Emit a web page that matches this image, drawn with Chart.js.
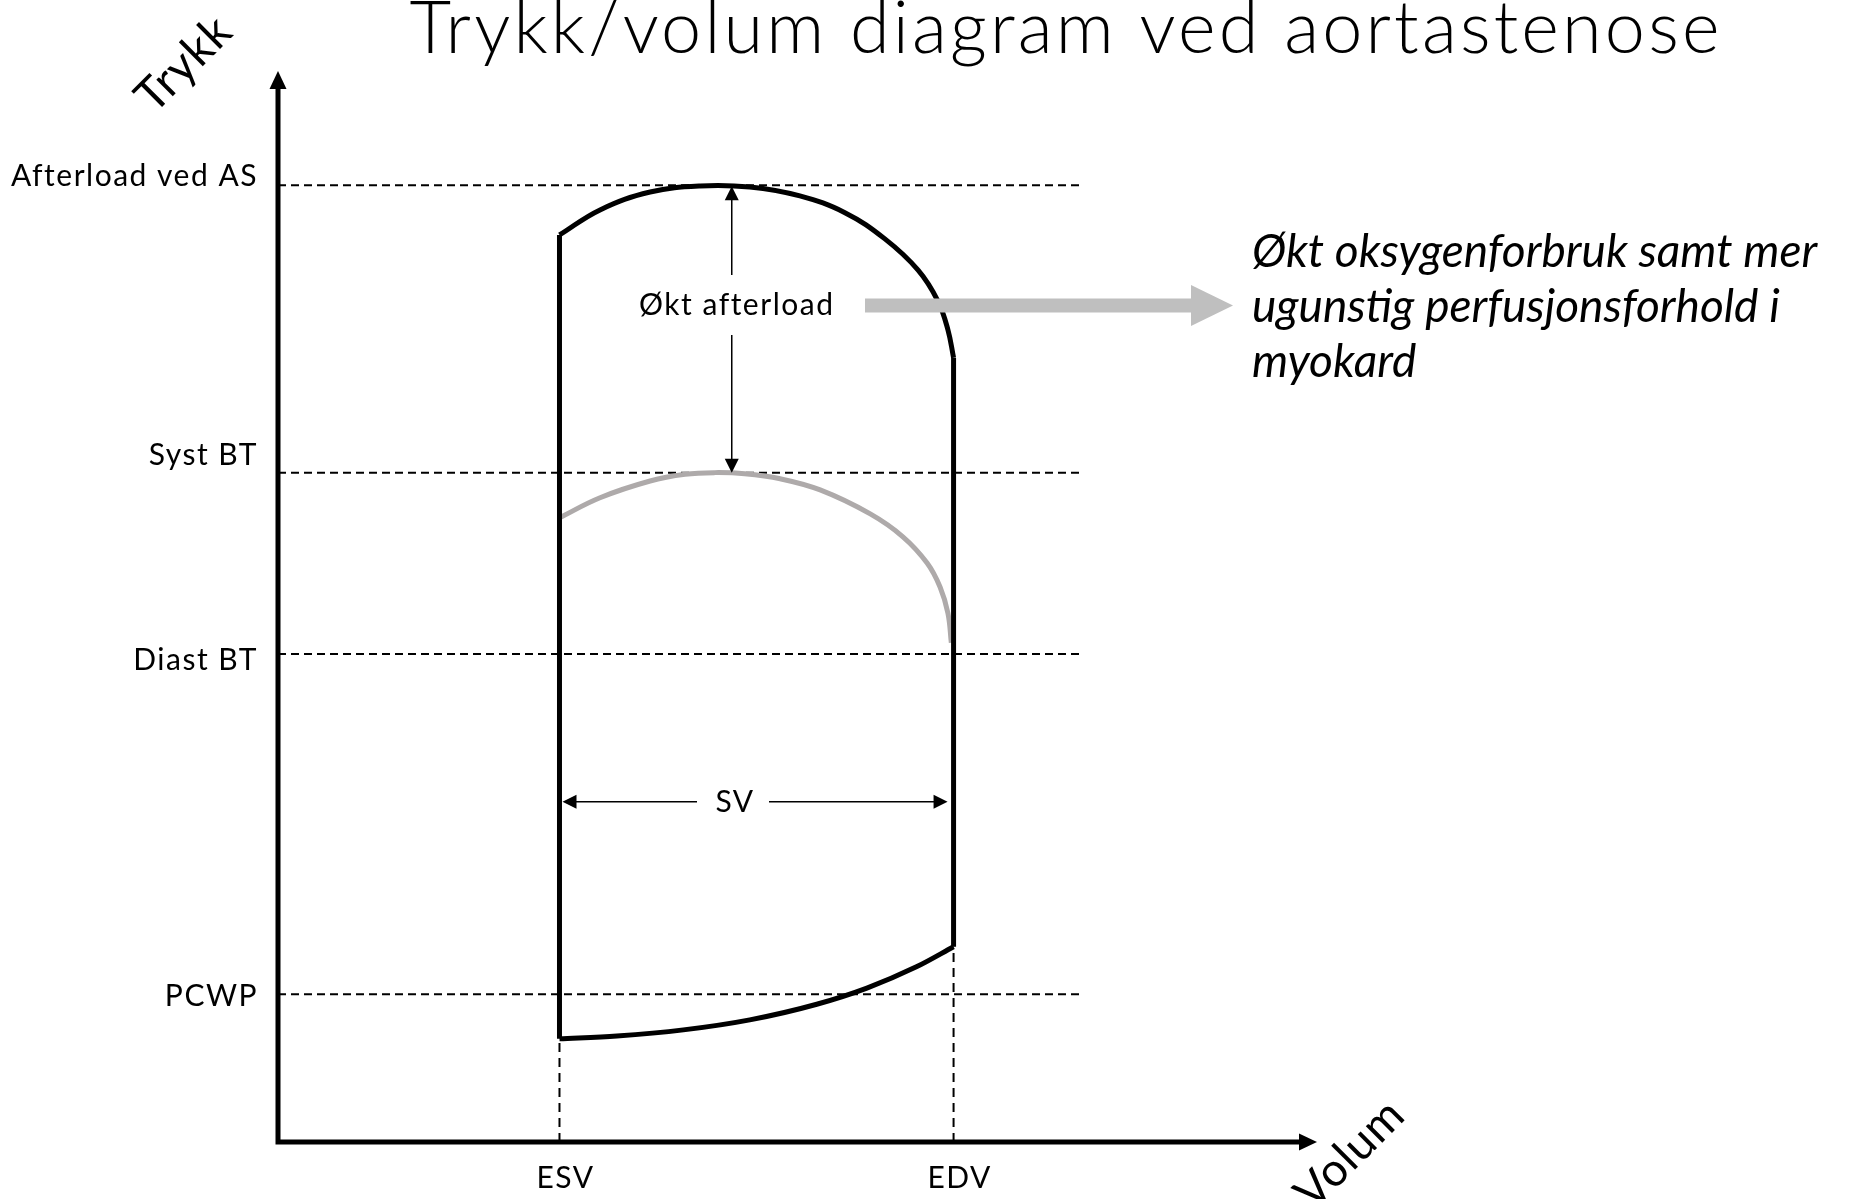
<!DOCTYPE html>
<html>
<head>
<meta charset="utf-8">
<title>Trykk/volum diagram ved aortastenose</title>
<script src="https://cdn.jsdelivr.net/npm/chart.js@4.4.1/dist/chart.umd.min.js"></script>
<style>
  html, body { margin: 0; padding: 0; background: #fff; }
  #wrap { position: relative; width: 1855px; height: 1199px; }
</style>
</head>
<body>
<div id="wrap"><canvas id="pv"></canvas></div>
<script>
// volum (ml) og trykk (mmHg), lest av figuren
const levelNames = ['PCWP', 'Diast BT', 'Syst BT', 'Afterload ved AS'];
const levelValues = [26.5, 87.5, 120, 171.5];
const volumeNames = ['ESV', 'EDV'];
const volumeValues = [50, 120];

// sløyfa ved aortastenose
const topVol = [50, 57.2, 66.1, 75, 83.8, 92.7, 100.7, 107.8, 113.7, 117.2, 119, 120];
const topPres = [162.6, 167.1, 170.3, 171.4, 171.2, 169.6, 166.6, 161.9, 156.3, 150.8, 145.6, 140.6];
const bottomVol = [50, 60.2, 72, 83.8, 95.7, 104.6, 113.4, 120];
const bottomPres = [18.5, 19, 20.1, 21.9, 24.7, 27.6, 31.4, 35];

// normal ejeksjonskurve (grå)
const greyVol = [50, 57.2, 66.1, 72.3, 77.6, 82.9, 89.2, 96.3, 105.2, 111, 115.3, 117.6, 119, 119.6];
const greyPres = [111.9, 115.5, 118.5, 119.7, 120, 119.8, 118.9, 116.9, 112.6, 108.5, 103.8, 99.5, 94.8, 89.5];

const volMax = 184.2;
const presMax = 192;
const guideEnd = 142.3;

const FONT = 'Lato, "Noto Sans", sans-serif';

function pts(xs, ys) {
    return xs.map((x, i) => ({ x: x, y: ys[i] }));
}

const loopStyle = {
    borderColor: '#000',
    borderWidth: 5,
    pointRadius: 0,
    showLine: true,
    fill: false,
    borderJoinStyle: 'round',
    tension: 0.4
};

const datasets = [
    { label: 'Ejeksjon', data: pts(topVol, topPres), ...loopStyle },
    { label: 'Fylling', data: pts(bottomVol, bottomPres), ...loopStyle, cubicInterpolationMode: 'monotone' },
    { label: 'Isovolumetrisk relaksasjon', ...loopStyle, tension: 0,
      data: [{ x: volumeValues[0], y: bottomPres[0] }, { x: volumeValues[0], y: topPres[0] }] },
    { label: 'Isovolumetrisk kontraksjon', ...loopStyle, tension: 0,
      data: [{ x: volumeValues[1], y: bottomPres[bottomPres.length - 1] }, { x: volumeValues[1], y: topPres[topPres.length - 1] }] },
    { label: 'Normal', data: pts(greyVol, greyPres), ...loopStyle, borderColor: '#aeaaaa' }
];

levelValues.forEach((v, i) => {
    datasets.push({
        label: levelNames[i],
        data: [{ x: 0, y: v }, { x: guideEnd, y: v }],
        showLine: true, pointRadius: 0, borderColor: '#000', borderWidth: 2, borderDash: [8, 5], tension: 0
    });
});
volumeValues.forEach((v, i) => {
    const top = i === 0 ? bottomPres[0] : bottomPres[bottomPres.length - 1];
    datasets.push({
        label: volumeNames[i],
        data: [{ x: v, y: 0 }, { x: v, y: top }],
        showLine: true, pointRadius: 0, borderColor: '#000', borderWidth: 2, borderDash: [9, 6], tension: 0
    });
});

function head(ctx, tx, ty, dx, dy, len, half) {
    // trekant med spiss i (tx, ty), retning (dx, dy)
    const bx = tx - dx * len, by = ty - dy * len;
    ctx.beginPath();
    ctx.moveTo(tx, ty);
    ctx.lineTo(bx - dy * half, by + dx * half);
    ctx.lineTo(bx + dy * half, by - dx * half);
    ctx.closePath();
    ctx.fill();
}

function spaced(ctx, text, x, y, sp) {
    ctx.letterSpacing = sp + 'px';
    ctx.fillText(text, x, y);
    ctx.letterSpacing = '0px';
}

const overlay = {
    id: 'overlay',
    afterDatasetsDraw(chart) {
        const { ctx, chartArea: a } = chart;
        const xs = chart.scales.x, ys = chart.scales.y;
        ctx.save();
        ctx.fillStyle = '#000';
        ctx.strokeStyle = '#000';

        // akser
        ctx.lineWidth = 5;
        ctx.lineJoin = 'miter';
        ctx.beginPath();
        ctx.moveTo(a.left, a.top + 14);
        ctx.lineTo(a.left, a.bottom);
        ctx.lineTo(a.right - 14, a.bottom);
        ctx.stroke();
        head(ctx, a.left, a.top, 0, -1, 18, 8.5);
        head(ctx, a.right + 2, a.bottom, 1, 0, 18, 8.5);

        // etiketter på trykkaksen
        const shift = [2, 6, -17, -9];
        ctx.font = '30px ' + FONT;
        ctx.textAlign = 'right';
        ctx.textBaseline = 'middle';
        levelNames.forEach((name, i) => {
            spaced(ctx, name, a.left - 20, ys.getPixelForValue(levelValues[i]) + shift[i], 1.5);
        });
        ctx.textAlign = 'center';
        volumeNames.forEach((name, i) => {
            spaced(ctx, name, xs.getPixelForValue(volumeValues[i]) + 6, a.bottom + 36, 1.5);
        });

        // aksetitler
        ctx.font = '46px ' + FONT;
        ctx.save();
        ctx.translate(184, 64);
        ctx.rotate(-Math.PI / 4);
        spaced(ctx, 'Trykk', 0, 0, 1);
        ctx.restore();
        ctx.save();
        ctx.translate(1350, 1154);
        ctx.rotate(-Math.PI / 4);
        spaced(ctx, 'Volum', 0, 0, 1);
        ctx.restore();

        // økt afterload
        ctx.lineWidth = 1.5;
        const ax = xs.getPixelForValue(80.6);
        const yTop = ys.getPixelForValue(levelValues[3]) + 1;
        const ySys = ys.getPixelForValue(levelValues[2]);
        const yText = 305;
        ctx.beginPath();
        ctx.moveTo(ax, yTop + 12); ctx.lineTo(ax, yText - 30);
        ctx.moveTo(ax, yText + 30); ctx.lineTo(ax, ySys - 12);
        ctx.stroke();
        head(ctx, ax, yTop, 0, -1, 14, 7);
        head(ctx, ax, ySys, 0, 1, 14, 7);
        ctx.font = '30px ' + FONT;
        spaced(ctx, 'Økt afterload', ax + 5, yText, 1.5);

        // slagvolum
        const sy = ys.getPixelForValue(61);
        const sx0 = xs.getPixelForValue(volumeValues[0]) + 3;
        const sx1 = xs.getPixelForValue(volumeValues[1]) - 6;
        const sMid = 735;
        ctx.beginPath();
        ctx.moveTo(sx0 + 12, sy); ctx.lineTo(sMid - 38, sy);
        ctx.moveTo(sMid + 34, sy); ctx.lineTo(sx1 - 12, sy);
        ctx.stroke();
        head(ctx, sx0, sy, -1, 0, 14, 7);
        head(ctx, sx1, sy, 1, 0, 14, 7);
        spaced(ctx, 'SV', sMid, sy + 1, 1.5);

        // grå pil mot konsekvens
        ctx.fillStyle = '#bfbfbf';
        ctx.fillRect(865, 298.5, 1192 - 865, 14);
        head(ctx, 1233, 305.5, 1, 0, 42, 20.5);

        // tekst til høyre
        ctx.fillStyle = '#000';
        ctx.textAlign = 'left';
        ctx.textBaseline = 'alphabetic';
        ctx.font = 'italic 46px ' + FONT;
        ['Økt oksygenforbruk samt mer', 'ugunstig perfusjonsforhold i', 'myokard'].forEach((t, i) => {
            ctx.fillText(t, 1252, 267 + i * 55);
        });

        // tittel
        ctx.font = '300 72px ' + FONT;
        ctx.textAlign = 'center';
        const title = 'Trykk/volum diagram ved aortastenose';
        const w = ctx.measureText(title).width;
        spaced(ctx, title, 1066, 53, (1310 - w) / (title.length - 1));
        ctx.restore();
    }
};

new Chart(document.getElementById('pv'), {
    type: 'scatter',
    data: { datasets: datasets },
    options: {
        responsive: true,
        maintainAspectRatio: false,
        animation: false,
        layout: { padding: { left: 278, right: 540, top: 71, bottom: 57 } },
        plugins: {
            legend: { display: false },
            tooltip: { enabled: false }
        },
        scales: {
            x: { type: 'linear', min: 0, max: volMax, display: false },
            y: { type: 'linear', min: 0, max: presMax, display: false }
        }
    },
    plugins: [overlay]
});
</script>
</body>
</html>
